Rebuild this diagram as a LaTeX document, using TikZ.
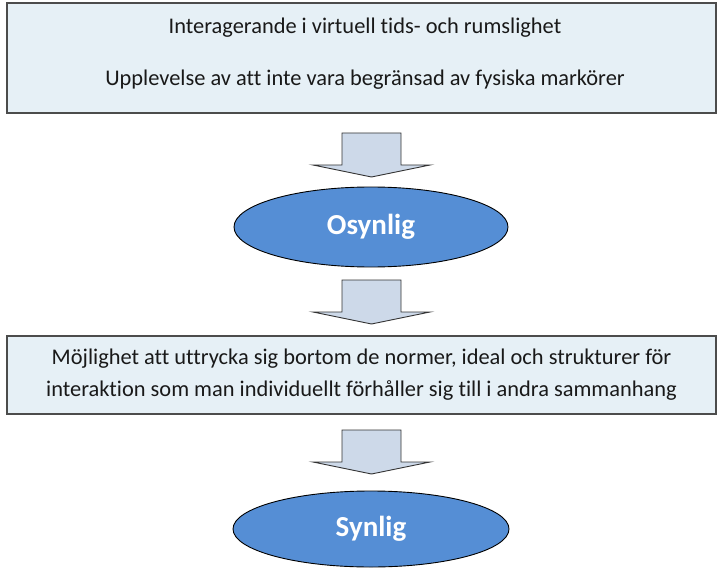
\documentclass[tikz,border=0pt]{standalone}
\usepackage{fontspec}
\setmainfont{Carlito}[Ligatures=NoCommon]
\usetikzlibrary{shapes.geometric}
\definecolor{boxfill}{RGB}{230,240,246}
\definecolor{arrowfill}{RGB}{205,217,233}
\definecolor{ovalfill}{RGB}{85,142,213}

\begin{document}
\begin{tikzpicture}[x=1pt,y=-1pt,
    textbox/.style={draw=black!70,line width=1.3pt,fill=boxfill,
      minimum width=709pt,inner sep=0pt},
    boxtext/.style={font=\fontsize{22.4}{32}\selectfont,align=center,text=black!90},
    oval/.style={ellipse,draw=black,line width=0.9pt,fill=ovalfill,text=white,
      inner sep=0pt,font=\bfseries\fontsize{29}{32}\selectfont},
    blockarrow/.style={draw=black!80,line width=0.9pt,fill=arrowfill}]
        \useasboundingbox (0,0) rectangle (719,569);
        % boxes
        \node[textbox,minimum height=110pt] (top) at (361.5,58) {};
        \node[boxtext] (topa) at (365,28) {Interagerande i virtuell tids- och rumslighet};
        \node[boxtext] (topb) at (365,80) {Upplevelse av att inte vara begränsad av fysiska markörer};
        \node[textbox,minimum height=78pt,boxtext] (mid) at (361.5,375)
          {Möjlighet att uttrycka sig bortom de normer, ideal och strukturer för\\
           interaktion som man individuellt förhåller sig till i andra sammanhang};
        % ovals
        \node[oval,minimum width=274pt,minimum height=80pt] (osynlig) at (371,227) {Osynlig};
        \node[oval,minimum width=276pt,minimum height=76pt] (synlig) at (371,529) {Synlig};
        % block arrows
        \foreach \t in {133,280,430} {
          \draw[blockarrow] (342,\t) -- (401,\t) -- (401,\t+32) -- (430,\t+32)
            -- (371.5,\t+44) -- (313,\t+32) -- (342,\t+32) -- cycle;
        }
\end{tikzpicture}
\end{document}
